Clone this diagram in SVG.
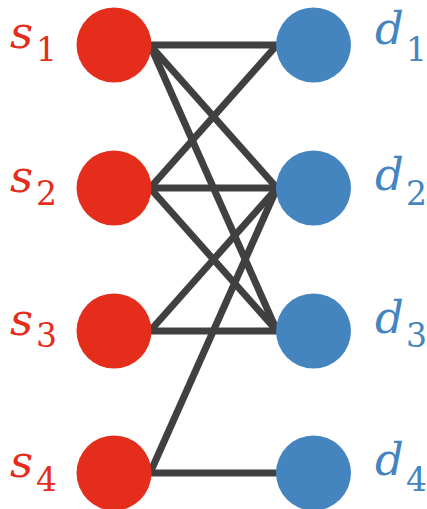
<svg xmlns="http://www.w3.org/2000/svg" width="427" height="509" viewBox="0 0 427 509">
<style>
.e{stroke:#404040;stroke-width:7;stroke-linecap:butt;fill:none}
.s{fill:#E52D1C}
.d{fill:#4585BF}
.m{font-family:"DejaVu Serif",serif;font-style:italic;font-size:45px}
.b{font-family:"DejaVu Serif",serif;font-size:33px}
</style>
<rect width="427" height="509" fill="#ffffff"/>
<g id="connectors">
<line class="e" x1="150" y1="45" x2="277" y2="45"/>
<line class="e" x1="150" y1="45" x2="277" y2="188"/>
<line class="e" x1="150" y1="45" x2="277" y2="331"/>
<line class="e" x1="150" y1="188" x2="277" y2="45"/>
<line class="e" x1="150" y1="188" x2="277" y2="188"/>
<line class="e" x1="150" y1="188" x2="277" y2="331"/>
<line class="e" x1="150" y1="331" x2="277" y2="188"/>
<line class="e" x1="150" y1="331" x2="277" y2="331"/>
<line class="e" x1="150" y1="473" x2="277" y2="188"/>
<line class="e" x1="150" y1="473" x2="277" y2="473"/>
</g>
<g id="s1"><circle class="s" cx="114" cy="45" r="37.5"/><text class="m s" x="10" y="48">s</text><text class="b s" x="36" y="61">1</text></g>
<g id="s2"><circle class="s" cx="114" cy="188" r="37.5"/><text class="m s" x="10" y="192">s</text><text class="b s" x="36" y="205">2</text></g>
<g id="s3"><circle class="s" cx="114" cy="331" r="37.5"/><text class="m s" x="10" y="335">s</text><text class="b s" x="36" y="347">3</text></g>
<g id="s4"><circle class="s" cx="114" cy="473" r="37.5"/><text class="m s" x="10" y="477">s</text><text class="b s" x="36" y="491">4</text></g>
<g id="d1"><circle class="d" cx="313.5" cy="45" r="37.5"/><text class="m d" x="375" y="44">d</text><text class="b d" x="406" y="61">1</text></g>
<g id="d2"><circle class="d" cx="313.5" cy="188" r="37.5"/><text class="m d" x="375" y="190">d</text><text class="b d" x="406" y="205">2</text></g>
<g id="d3"><circle class="d" cx="313.5" cy="331" r="37.5"/><text class="m d" x="375" y="333">d</text><text class="b d" x="406" y="347">3</text></g>
<g id="d4"><circle class="d" cx="313.5" cy="473" r="37.5"/><text class="m d" x="375" y="475">d</text><text class="b d" x="406" y="491">4</text></g>
</svg>
